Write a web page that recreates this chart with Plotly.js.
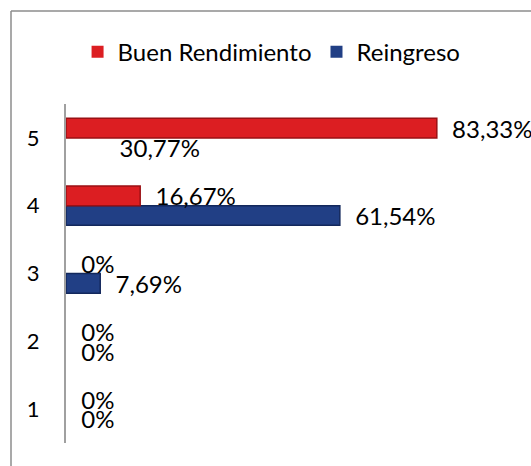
<!DOCTYPE html>
<html>
<head>
<meta charset="utf-8">
<script src="https://cdn.plot.ly/plotly-3.0.1.min.js"></script>
<style>
  html, body { margin: 0; padding: 0; background: #fff; }
  #chart { width: 531px; height: 466px; }
</style>
</head>
<body>
<div id="chart"></div>
<script>
// Values
const categories = ['1', '2', '3', '4', '5'];
const buenRendimiento = [0, 0, 0, 16.67, 83.33];
const reingreso = [0, 0, 7.69, 61.54, 30.77];
const seriesNames = ['Buen Rendimiento', 'Reingreso'];

function fmt(v) {
  const s = (Math.round(v * 100) / 100).toString().replace('.', ',');
  return s + '%';
}
const pad = '\u00a0\u00a0';

const FONT = 'Lato, Carlito, Calibri, sans-serif';
const LBL = 24;
const RED = '#dc1e22';
const BLUE = '#213f85';

// In the reference the Reingreso bar of category 5 is not visible (only its label is shown)
const hiddenBlue = categories.map(c => c === '5');
const blueColors = hiddenBlue.map(h => h ? 'rgba(0,0,0,0)' : BLUE);
const blueLines = reingreso.map((v, i) => (hiddenBlue[i] || v === 0) ? 'rgba(0,0,0,0)' : '#13285c');
const bluePos = hiddenBlue.map(h => h ? 'inside' : 'outside');

const traceReingreso = {
  type: 'bar', orientation: 'h', name: seriesNames[1],
  y: categories, x: reingreso,
  text: reingreso.map((v, i) => hiddenBlue[i] ? fmt(v) : pad + fmt(v)),
  textposition: bluePos, insidetextanchor: 'end', constraintext: 'none', cliponaxis: false,
  textfont: { family: FONT, size: LBL, color: '#000' },
  insidetextfont: { family: FONT, size: LBL, color: '#000' },
  outsidetextfont: { family: FONT, size: LBL, color: '#000' },
  marker: { color: blueColors, line: { color: blueLines, width: 1.5 } },
  legendrank: 2, hoverinfo: 'none'
};

const traceBuen = {
  type: 'bar', orientation: 'h', name: seriesNames[0],
  y: categories, x: buenRendimiento,
  text: buenRendimiento.map(v => pad + fmt(v)),
  textposition: 'outside', constraintext: 'none', cliponaxis: false,
  textfont: { family: FONT, size: LBL, color: '#000' },
  outsidetextfont: { family: FONT, size: LBL, color: '#000' },
  marker: { color: RED, line: { color: buenRendimiento.map(v => v > 0 ? '#9a1014' : 'rgba(0,0,0,0)'), width: 1.5 } },
  legendrank: 1, hoverinfo: 'none'
};

const bx0 = -55 / 445, by1 = (466 - 11 - 23) / 339;
const layout = {
  width: 531, height: 466,
  margin: { l: 66, r: 20, t: 104, b: 23, autoexpand: false },
  paper_bgcolor: '#fff', plot_bgcolor: '#fff',
  font: { family: FONT, size: LBL, color: '#000' },
  barmode: 'group', bargap: 0.42, bargroupgap: 0,
  showlegend: true,
  legend: {
    orientation: 'h', x: 0.026, xanchor: 'left', y: 1.153, yanchor: 'middle',
    bgcolor: 'rgba(0,0,0,0)',
    font: { family: FONT, size: LBL, color: '#000' },
    itemwidth: 30, traceorder: 'normal'
  },
  xaxis: { range: [0, 100], showgrid: false, zeroline: false, showline: false, showticklabels: false, ticks: '' },
  yaxis: {
    type: 'category', categoryorder: 'array', categoryarray: categories,
    showgrid: false, zeroline: false, showline: true, linecolor: '#a0a0a0', linewidth: 2,
    ticks: '', ticklabelstandoff: 20,
    tickfont: { family: FONT, size: 22, color: '#000' }
  },
  shapes: [
    { type: 'line', xref: 'paper', yref: 'paper', x0: bx0, x1: bx0, y0: -0.2, y1: by1, line: { color: '#8c8c8c', width: 1.5 } },
    { type: 'line', xref: 'paper', yref: 'paper', x0: bx0, x1: 1.2, y0: by1, y1: by1, line: { color: '#8c8c8c', width: 1.5 } }
  ]
};

Plotly.newPlot('chart', [traceReingreso, traceBuen], layout, { staticPlot: true, displayModeBar: false });
</script>
</body>
</html>
